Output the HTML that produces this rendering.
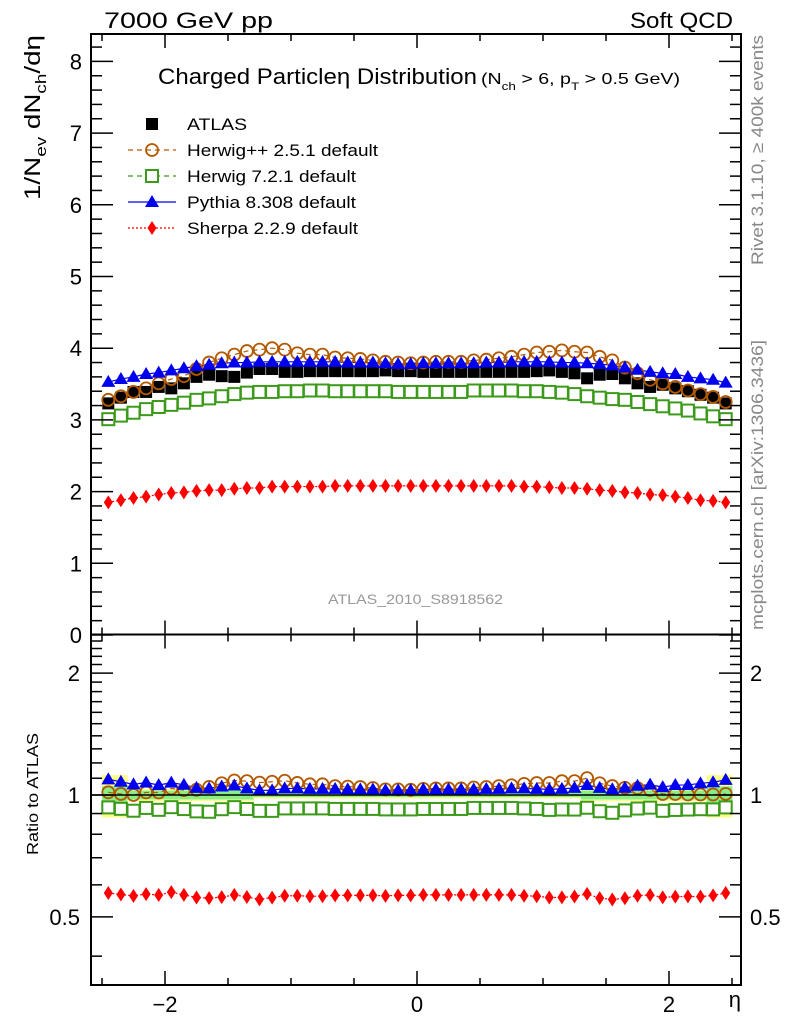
<!DOCTYPE html>
<html><head><meta charset="utf-8">
<style>
html,body{margin:0;padding:0;background:#fff;}
svg{display:block;font-family:"Liberation Sans",Arial,sans-serif;}
</style></head>
<body>
<svg id="chart" width="786" height="1024" viewBox="0 0 786 1024" xmlns="http://www.w3.org/2000/svg">
<rect x="0" y="0" width="786" height="1024" fill="#fff"/>
<g id="bands"></g>
<g id="lines"></g>
<g id="marks"></g>
<g id="axes"></g>
<text x="104" y="28" font-size="22" textLength="169" lengthAdjust="spacingAndGlyphs">7000 GeV pp</text>
<text x="630" y="28" font-size="22" textLength="103" lengthAdjust="spacingAndGlyphs">Soft QCD</text>
<text x="158" y="84" font-size="22" textLength="319" lengthAdjust="spacingAndGlyphs">Charged Particleη Distribution</text>
<text x="481" y="84" font-size="16" textLength="199" lengthAdjust="spacingAndGlyphs">(N<tspan font-size="11" dy="6">ch</tspan><tspan dy="-6"> &gt; 6, p</tspan><tspan font-size="11" dy="6">T</tspan><tspan dy="-6"> &gt; 0.5 GeV)</tspan></text>
<text x="328" y="604" font-size="14" fill="#999" textLength="175" lengthAdjust="spacingAndGlyphs">ATLAS_2010_S8918562</text>
<text transform="translate(40,200) rotate(-90)" font-size="22" textLength="165" lengthAdjust="spacingAndGlyphs">1/N<tspan font-size="15" dy="6">ev</tspan><tspan dy="-6"> dN</tspan><tspan font-size="15" dy="6">ch</tspan><tspan dy="-6">/dη</tspan></text>
<text transform="translate(38,855) rotate(-90)" font-size="16" textLength="122" lengthAdjust="spacingAndGlyphs">Ratio to ATLAS</text>
<text x="741" y="1007" font-size="22" text-anchor="end">η</text>
<text transform="translate(763,265) rotate(-90)" font-size="17" fill="#888" textLength="230" lengthAdjust="spacingAndGlyphs">Rivet 3.1.10, ≥ 400k events</text>
<text transform="translate(763,630) rotate(-90)" font-size="17" fill="#888" textLength="290" lengthAdjust="spacingAndGlyphs">mcplots.cern.ch [arXiv:1306.3436]</text>
<g id="legend"></g>
</svg>
<script>
const etaCenters = [-2.45,-2.35,-2.25,-2.15,-2.05,-1.95,-1.85,-1.75,-1.65,-1.55,-1.45,-1.35,-1.25,-1.15,-1.05,-0.95,-0.85,-0.75,-0.65,-0.55,-0.45,-0.35,-0.25,-0.15,-0.05,0.05,0.15,0.25,0.35,0.45,0.55,0.65,0.75,0.85,0.95,1.05,1.15,1.25,1.35,1.45,1.55,1.65,1.75,1.85,1.95,2.05,2.15,2.25,2.35,2.45];
const atlasVals = [3.23,3.31,3.39,3.39,3.46,3.44,3.51,3.60,3.63,3.61,3.60,3.66,3.71,3.71,3.67,3.67,3.68,3.68,3.68,3.68,3.68,3.68,3.69,3.68,3.68,
  3.67,3.67,3.67,3.67,3.67,3.67,3.67,3.67,3.67,3.68,3.69,3.67,3.65,3.58,3.63,3.64,3.58,3.51,3.46,3.49,3.44,3.40,3.35,3.31,3.23];
const herwigppVals = [3.28,3.33,3.39,3.44,3.51,3.57,3.61,3.71,3.80,3.86,3.91,3.96,3.98,4.00,3.98,3.93,3.91,3.91,3.87,3.86,3.85,3.83,3.81,3.80,3.79,
  3.80,3.81,3.81,3.81,3.83,3.84,3.86,3.88,3.91,3.94,3.95,3.97,3.95,3.94,3.88,3.83,3.73,3.65,3.56,3.51,3.46,3.41,3.36,3.32,3.25];
const herwig7Vals = [3.01,3.06,3.10,3.15,3.18,3.21,3.24,3.28,3.30,3.33,3.36,3.38,3.39,3.39,3.40,3.40,3.41,3.41,3.40,3.40,3.40,3.40,3.40,3.39,3.39,
  3.39,3.39,3.39,3.39,3.41,3.41,3.41,3.41,3.40,3.40,3.39,3.38,3.36,3.33,3.31,3.29,3.28,3.25,3.22,3.19,3.16,3.13,3.09,3.05,3.01];
const pythiaVals = [3.53,3.57,3.60,3.64,3.66,3.69,3.72,3.75,3.77,3.79,3.80,3.80,3.81,3.81,3.81,3.81,3.81,3.81,3.81,3.80,3.80,3.80,3.79,3.78,3.78,
  3.79,3.79,3.79,3.79,3.79,3.80,3.80,3.81,3.81,3.81,3.81,3.80,3.80,3.79,3.78,3.76,3.73,3.70,3.67,3.65,3.64,3.60,3.58,3.56,3.52];
const sherpaVals = [1.85,1.88,1.91,1.93,1.96,1.98,1.99,2.01,2.02,2.02,2.04,2.05,2.05,2.07,2.07,2.07,2.07,2.07,2.08,2.08,2.08,2.08,2.08,2.08,2.08,
  2.08,2.08,2.08,2.08,2.08,2.08,2.08,2.08,2.07,2.07,2.06,2.05,2.05,2.04,2.02,2.01,1.99,1.98,1.96,1.95,1.93,1.91,1.88,1.87,1.85];
const totalUnc = [0.12,0.12,0.035,0.035,0.035,0.035,0.035,0.035,0.035,0.035,0.035,0.035,0.02,0.02,0.02,0.02,0.02,0.02,0.02,0.02,0.02,0.02,0.02,0.02,0.02,
  0.02,0.02,0.02,0.02,0.02,0.02,0.02,0.02,0.02,0.02,0.02,0.02,0.02,0.035,0.035,0.035,0.035,0.035,0.035,0.035,0.035,0.035,0.035,0.12,0.12];
const statUnc = [0.05,0.05,0.025,0.025,0.025,0.025,0.025,0.025,0.025,0.025,0.025,0.025,0.012,0.012,0.012,0.012,0.012,0.012,0.012,0.012,0.012,0.012,0.012,0.012,0.012,
  0.012,0.012,0.012,0.012,0.012,0.012,0.012,0.012,0.012,0.012,0.012,0.012,0.012,0.025,0.025,0.025,0.025,0.025,0.025,0.025,0.025,0.025,0.025,0.05,0.05];
const binWidth = 0.1;
const xTickMajor = [-2,0,2];
const xTickLabels = ["\u22122","0","2"];
const yTickLabels = ["0","1","2","3","4","5","6","7","8"];
const rTickLabels = ["0.5","1","2"];
const rTickMajor = [0.5,1,2];

const NS="http://www.w3.org/2000/svg";
const L=91,R=741,T=34,MID=634.5,B=985;
const X0=417,XS=126;
function xp(e){return X0+XS*e;}
function yp(v){return 635-71.7*v;}
function rp(r){return 795-405*Math.log10(r);}
function mk(tag,attrs,parent){const el=document.createElementNS(NS,tag);for(const k in attrs)el.setAttribute(k,attrs[k]);parent.appendChild(el);return el;}
const bands=document.getElementById('bands'),lines=document.getElementById('lines'),marks=document.getElementById('marks'),axes=document.getElementById('axes'),legend=document.getElementById('legend');

etaCenters.forEach((e,i)=>{
  const x1=xp(e-binWidth/2),w=XS*binWidth+0.5;
  let r=mk('rect',{x:x1,y:rp(1+totalUnc[i]),width:w,height:rp(1-totalUnc[i])-rp(1+totalUnc[i]),fill:'#ffff88'},bands);
  
  
  let g=mk('rect',{x:x1,y:rp(1+statUnc[i]),width:w,height:rp(1-statUnc[i])-rp(1+statUnc[i]),fill:'#88ee88'},bands);
  
  
});

function marker(kind,color,cx,cy,parent,name){
  let el;
  if(kind==='square'){el=mk('rect',{x:cx-6,y:cy-6,width:12,height:12,fill:'#000'},parent);}
  else if(kind==='osquare'){el=mk('rect',{x:cx-6,y:cy-6,width:12,height:12,fill:'#fff',stroke:color,'stroke-width':2},parent);}
  else if(kind==='circle'){el=mk('circle',{cx:cx,cy:cy,r:6,fill:'none',stroke:color,'stroke-width':1.8},parent);}
  else if(kind==='tri'){el=mk('polygon',{points:`${cx},${cy-7} ${cx-7},${cy+5} ${cx+7},${cy+5}`,fill:color},parent);}
  else {el=mk('polygon',{points:`${cx},${cy-7} ${cx-4.5},${cy} ${cx},${cy+7} ${cx+4.5},${cy}`,fill:color},parent);}
  
  
}
const series=[
  {vals:herwig7Vals,kind:'osquare',color:'#3c9a1a',dash:'5,4',name:'herwig7'},
  {vals:herwigppVals,kind:'circle',color:'#b35900',dash:'5,4',name:'herwigpp'},
  {vals:pythiaVals,kind:'tri',color:'#0000ee',dash:'',name:'pythia'},
  {vals:sherpaVals,kind:'diam',color:'#ff0000',dash:'2,2',name:'sherpa'}
];
etaCenters.forEach((e,i)=>marker('square','#000',xp(e),yp(atlasVals[i]),marks,'atlas-point'));
series.forEach(s=>{
  const ptsTop=etaCenters.map((e,i)=>xp(e)+','+yp(s.vals[i])).join(' ');
  const ptsR=etaCenters.map((e,i)=>xp(e)+','+rp(s.vals[i]/atlasVals[i])).join(' ');
  let a=mk('polyline',{points:ptsTop,fill:'none',stroke:s.color,'stroke-width':1.2,'stroke-dasharray':s.dash},lines);
  
  
  let b=mk('polyline',{points:ptsR,fill:'none',stroke:s.color,'stroke-width':1.2,'stroke-dasharray':s.dash},lines);
  
  
  etaCenters.forEach((e,i)=>{
    marker(s.kind,s.color,xp(e),yp(s.vals[i]),marks,s.name+'-point');
    marker(s.kind,s.color,xp(e),rp(s.vals[i]/atlasVals[i]),marks,s.name+'-ratio-point');
  });
});
let one=mk('line',{x1:L,x2:R,y1:rp(1),y2:rp(1),stroke:'#000','stroke-width':1.5},axes);



[[T,MID],[MID,B]].forEach(([t,b],k)=>{
  let f=mk('rect',{x:L,y:t,width:R-L,height:b-t,fill:'none',stroke:'#000','stroke-width':2},axes);
  
  
});
function tick(x1,y1,x2,y2){let l=mk('line',{x1,y1,x2,y2,stroke:'#000','stroke-width':1.5},axes);}
for(let e=-2.5;e<=2.51;e+=0.5){
  const x=xp(e),maj=xTickMajor.some(m=>Math.abs(m-e)<1e-6),len=maj?14:7;
  tick(x,B,x,B-len);tick(x,MID,x,MID+len);tick(x,MID,x,MID-len);tick(x,T,x,T+len);
}
xTickMajor.forEach((e,i)=>{let t=mk('text',{x:xp(e),y:1012,'font-size':22,'text-anchor':'middle'},axes);t.textContent=xTickLabels[i];});
for(let v=0;v<=8.31;v+=0.2){
  const y=yp(v);if(y<T)break;const maj=Math.abs(v-Math.round(v))<1e-6,len=maj?22:11;
  tick(L,y,L+len,y);tick(R,y,R-len,y);
}
yTickLabels.forEach((s,i)=>{let t=mk('text',{x:82,y:yp(i)+8,'font-size':22,'text-anchor':'end'},axes);t.textContent=s;});
for(let r=0.4;r<=2.41;r+=0.1){
  const y=rp(r);if(y>B||y<MID)continue;const maj=rTickMajor.some(m=>Math.abs(m-r)<1e-6),len=maj?22:11;
  tick(L,y,L+len,y);tick(R,y,R-len,y);
}
rTickMajor.forEach((r,i)=>{
  let t=mk('text',{x:80,y:rp(r)+8,'font-size':22,'text-anchor':'end'},axes);t.textContent=rTickLabels[i];
  let t2=mk('text',{x:750,y:rp(r)+8,'font-size':22},axes);t2.textContent=rTickLabels[i];
});

const legendLabels=["ATLAS","Herwig++ 2.5.1 default","Herwig 7.2.1 default","Pythia 8.308 default","Sherpa 2.2.9 default"];
const legendWidths=[60,191,169,169,171];
const legendKinds=[['square','#000',''],['circle','#b35900','5,4'],['osquare','#3c9a1a','5,4'],['tri','#0000ee',''],['diam','#ff0000','2,2']];
legendLabels.forEach((lab,i)=>{
  const y=124+26*i;const [k,c,d]=legendKinds[i];
  if(i>0){let l=mk('line',{x1:128,x2:176,y1:y,y2:y,stroke:c,'stroke-width':1.2,'stroke-dasharray':d},legend);}
  marker(k,c,152,y,legend,'legend-marker');
  let t=mk('text',{x:187,y:y+6,'font-size':17,textLength:legendWidths[i],lengthAdjust:'spacingAndGlyphs'},legend);t.textContent=lab;
  
  
});
</script>
</body></html>
